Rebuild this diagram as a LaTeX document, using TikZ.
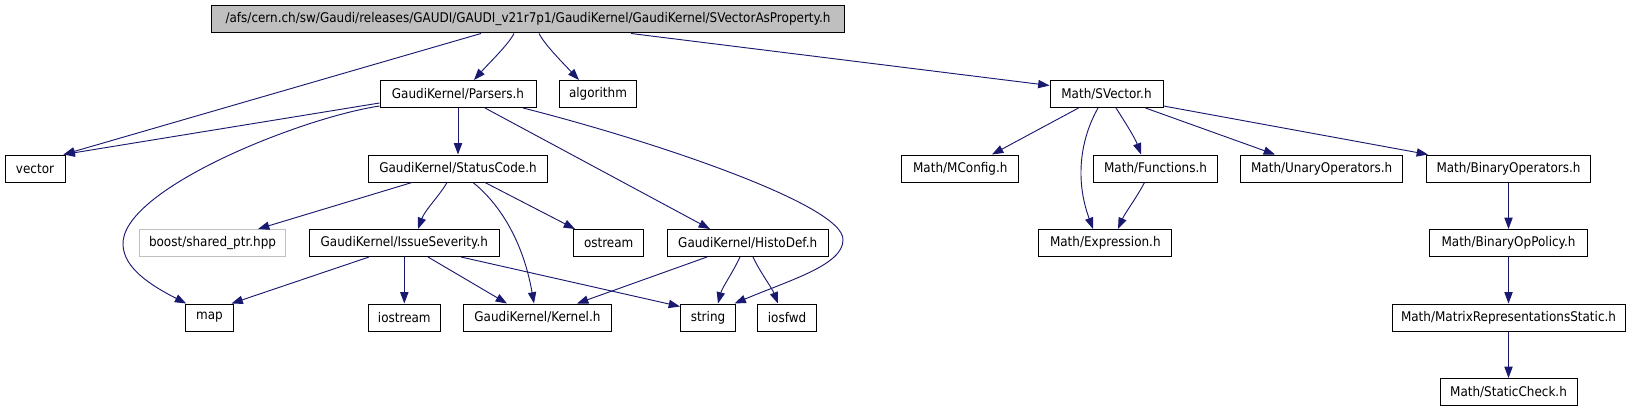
\documentclass[tikz,border=0pt]{standalone}
\usepackage{fontspec}
\setmainfont{DejaVu Sans}[FakeStretch=0.9]
\usetikzlibrary{arrows.meta,calc}
\definecolor{edgeblue}{RGB}{25,25,112}
\definecolor{rootgray}{RGB}{191,191,191}
\begin{document}
\begin{tikzpicture}[x=0.75pt,y=-0.75pt,
  box/.style={draw=black,line width=0.75pt,minimum height=20.25pt,inner sep=0pt,font=\fontsize{10}{12}\selectfont,fill=white},
  bw/.style={minimum width=#1*0.75pt},
  dep/.style={draw=edgeblue,line width=0.7pt,-{Triangle[length=8.5pt,width=6.2pt]}}]
\useasboundingbox (0,0) rectangle (1629,410);
% row 0
\node[box,fill=rootgray,bw=633] (root) at (528,19.5) {/afs/cern.ch/sw/Gaudi/releases/GAUDI/GAUDI\_v21r7p1/GaudiKernel/GaudiKernel/SVectorAsProperty.h};
% row 1
\node[box,bw=156] (parsers) at (458,94) {GaudiKernel/Parsers.h};
\node[box,bw=77] (algorithm) at (598,94) {algorithm};
\node[box,bw=113] (svector) at (1106.5,94) {Math/SVector.h};
% row 2
\node[box,bw=60] (vector) at (35,168.5) {vector};
\node[box,bw=179] (statuscode) at (458,168.5) {GaudiKernel/StatusCode.h};
\node[box,bw=117] (mconfig) at (960.3,168.5) {Math/MConfig.h};
\node[box,bw=124] (functions) at (1155.5,168.5) {Math/Functions.h};
\node[box,bw=162] (unary) at (1321.7,168.5) {Math/UnaryOperators.h};
\node[box,bw=164] (binary) at (1508.5,168.5) {Math/BinaryOperators.h};
% row 3
\node[box,draw=rootgray,bw=146] (boost) at (212.5,243) {boost/shared\_ptr.hpp};
\node[box,bw=190] (issue) at (404.3,243) {GaudiKernel/IssueSeverity.h};
\node[box,bw=70.5] (ostream) at (608.7,243) {ostream};
\node[box,bw=161] (histodef) at (747.7,243) {GaudiKernel/HistoDef.h};
\node[box,bw=133] (expression) at (1105.3,243) {Math/Expression.h};
\node[box,bw=158] (binop) at (1508.5,243) {Math/BinaryOpPolicy.h};
% row 4
\node[box,bw=47.6] (map) at (209.5,317.5) {map};
\node[box,bw=72.6] (iostream) at (404.3,317.5) {iostream};
\node[box,bw=148] (kernel) at (537.4,317.5) {GaudiKernel/Kernel.h};
\node[box,bw=55] (string) at (708,317.5) {string};
\node[box,bw=59.6] (iosfwd) at (787,317.5) {iosfwd};
\node[box,bw=233] (matrix) at (1508.5,317.5) {Math/MatrixRepresentationsStatic.h};
% row 5
\node[box,bw=137] (static) at (1508.5,392) {Math/StaticCheck.h};
% edges from root
\draw[dep] ($(root.south)+(-47,0)$) -- ($(vector.north east)+(-2,0)$);
\draw[dep] ($(root.south)+(-14,0)$) .. controls (508,45) and (490,62) .. ($(parsers.north)+(16,0)$);
\draw[dep] ($(root.south)+(11,0)$) .. controls (545,45) and (562,62) .. ($(algorithm.north)+(-19,0)$);
\draw[dep] ($(root.south)+(103,0)$) -- ($(svector.north west)+(0,5.5)$);
% edges from Parsers
\draw[dep] ($(parsers.south west)+(0,-5)$) -- ($(vector.north east)+(-2,0)$);
\draw[dep] ($(parsers.south west)+(0,-2)$) .. controls (300,118) and (120,190) .. (123,245) .. controls (124,268) and (150,285) .. ($(map.north west)+(1,0)$);
\draw[dep] (parsers.south) -- (statuscode.north);
\draw[dep] ($(parsers.south)+(27,0)$) -- ($(histodef.north)+(-37.7,0)$);
\draw[dep] ($(parsers.south)+(65,0)$) .. controls (650,140) and (845,205) .. (843,240) .. controls (843,265) and (790,280) .. ($(string.north east)+(-1.5,0)$);
% edges from StatusCode
\draw[dep] ($(statuscode.south)+(-46,0)$) -- ($(boost.north)+(45.5,0)$);
\draw[dep] ($(statuscode.south)+(-11,0)$) .. controls (440,195) and (425,210) .. ($(issue.north)+(13.7,0)$);
\draw[dep] ($(statuscode.south)+(15,0)$) .. controls (495,200) and (522,235) .. ($(kernel.north)+(-3.4,0)$);
\draw[dep] ($(statuscode.south)+(27,0)$) -- ($(ostream.north)+(-33.7,0)$);
% edges from IssueSeverity
\draw[dep] ($(issue.south)+(-35.3,0)$) -- ($(map.north)+(22,0)$);
\draw[dep] (issue.south) -- (issue.south |- iostream.north);
\draw[dep] ($(issue.south)+(23.7,0)$) -- ($(kernel.north)+(-30.4,0)$);
\draw[dep] ($(issue.south)+(56.7,0)$) -- ($(string.north west)+(0,3)$);
% edges from HistoDef
\draw[dep] ($(histodef.south)+(-40.7,0)$) -- ($(kernel.north)+(39.6,0)$);
\draw[dep] ($(histodef.south)+(-7.7,0)$) .. controls (733,272) and (722,288) .. ($(string.north)+(10,0)$);
\draw[dep] ($(histodef.south)+(5.3,0)$) .. controls (760,272) and (772,288) .. ($(iosfwd.north)+(-9,0)$);
% edges from SVector
\draw[dep] ($(svector.south)+(-28,0)$) -- ($(mconfig.north)+(31.7,0)$);
\draw[dep] ($(svector.south)+(-8.5,0)$) .. controls (1080,140) and (1075,180) .. ($(expression.north)+(-12.3,0)$);
\draw[dep] ($(svector.south)+(9.5,0)$) .. controls (1125,122) and (1135,138) .. ($(functions.north)+(-14.5,0)$);
\draw[dep] ($(svector.south)+(39,0)$) -- ($(unary.north)+(-46.7,0)$);
\draw[dep] ($(svector.south east)+(0,-2)$) -- ($(binary.north west)+(2,0)$);
\draw[dep] ($(functions.south)+(-11,0)$) .. controls (1137,197) and (1125,213) .. ($(expression.north)+(12.7,0)$);
% chain
\draw[dep] (binary.south) -- (binop.north);
\draw[dep] (binop.south) -- (matrix.north);
\draw[dep] (matrix.south) -- (static.north);
\end{tikzpicture}
\end{document}
